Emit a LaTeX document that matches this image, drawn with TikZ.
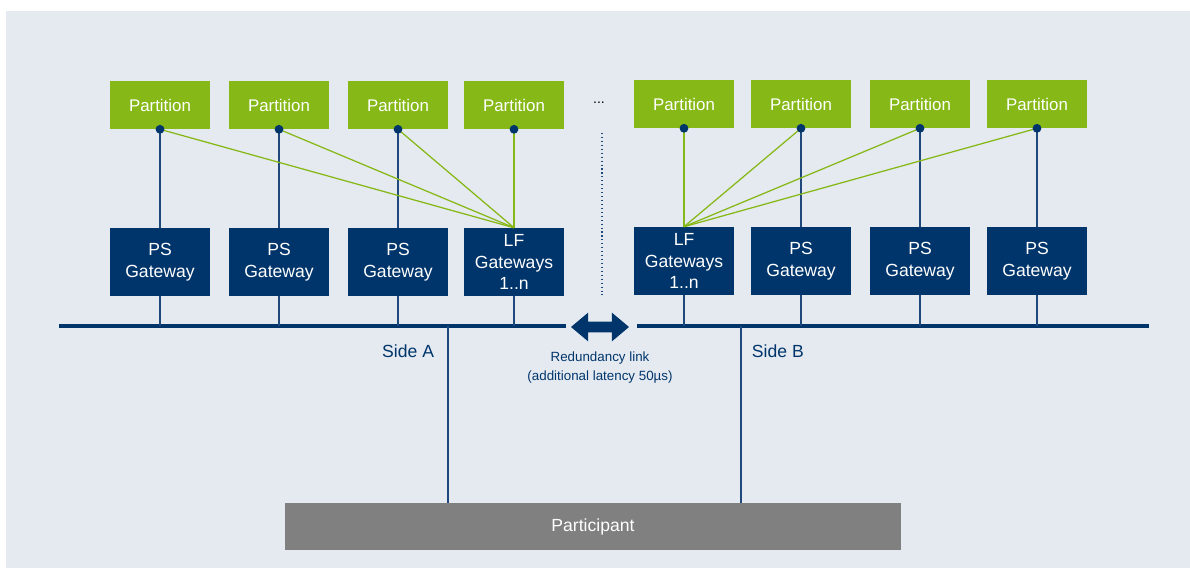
\documentclass[tikz,border=0pt]{standalone}
\usepackage{fontspec}
\setmainfont{Liberation Sans}
\usetikzlibrary{shapes.arrows, positioning}

\definecolor{bgblue}{RGB}{229,234,241}
\definecolor{partgreen}{RGB}{134,184,23}
\definecolor{navy}{RGB}{0,53,107}
\definecolor{wireblue}{RGB}{31,72,124}
\definecolor{partgray}{RGB}{128,128,128}

\begin{document}
\begin{tikzpicture}[
    x=0.025cm, y=-0.025cm,
    partition/.style={rectangle, fill=partgreen, text=white, minimum width=2.5cm, minimum height=1.2cm, font=\fontsize{12}{14}\selectfont},
    gateway/.style={rectangle, fill=navy, text=white, minimum width=2.5cm, minimum height=1.7cm, align=center, inner sep=1pt, font=\fontsize{12.5}{15.6}\selectfont},
    wire/.style={draw=wireblue, line width=0.9pt},
    lfwire/.style={draw=partgreen, line width=0.9pt},
    bus/.style={draw=navy, line width=2.6pt},
    side/.style={text=navy, font=\fontsize{12.5}{15}\selectfont}
]

    % Canvas
    \useasboundingbox (0,0) rectangle (1190,568);
    \fill[bgblue] (6,11) rectangle (1190,568);

    % Partitions, side A
    \node[partition] (p1) at (160,105) {Partition};
    \node[partition] (p2) at (279,105) {Partition};
    \node[partition] (p3) at (398,105) {Partition};
    \node[partition] (p4) at (514,105) {Partition};
    \node (more) at (599,103) {...};

    % Partitions, side B
    \node[partition] (p5) at (684,104) {Partition};
    \node[partition] (p6) at (801,104) {Partition};
    \node[partition] (p7) at (920,104) {Partition};
    \node[partition] (p8) at (1037,104) {Partition};

    % Gateways, side A
    \node[gateway] (g1) at (160,262) {PS\\Gateway};
    \node[gateway] (g2) at (279,262) {PS\\Gateway};
    \node[gateway] (g3) at (398,262) {PS\\Gateway};
    \node[gateway] (g4) at (514,262) {LF\\Gateways\\1..n};

    % Gateways, side B
    \node[gateway] (g5) at (684,261) {LF\\Gateways\\1..n};
    \node[gateway] (g6) at (801,261) {PS\\Gateway};
    \node[gateway] (g7) at (920,261) {PS\\Gateway};
    \node[gateway] (g8) at (1037,261) {PS\\Gateway};

    % Separator
    \coordinate (septop) at (602,133);
    \coordinate (sepbot) at (602,295);
    \draw[wireblue, dotted, line width=0.8pt] (septop) -- (sepbot);

    % Buses
    \coordinate (busAw) at (59,326);
    \coordinate (busAe) at (566,326);
    \coordinate (busBw) at (637,326);
    \coordinate (busBe) at (1149,326);
    \draw[bus] (busAw) -- (busAe);
    \draw[bus] (busBw) -- (busBe);

    % Redundancy link
    \node[double arrow, fill=navy, inner xsep=0pt, inner ysep=0.13cm, minimum height=1.45cm,
          double arrow head extend=0.22cm, double arrow tip angle=80] (redund) at (600,327) {};
    \node[text=navy, align=center, font=\fontsize{9.5}{13.5}\selectfont] (redundtxt) at (600,368)
        {Redundancy link\\(additional latency 50µs)};

    % Participant
    \node[rectangle, fill=partgray, text=white, minimum width=15.4cm, minimum height=1.175cm,
          font=\fontsize{12.5}{15}\selectfont] (part) at (593,526.5) {Participant};

    % PS gateways to their partitions
    \draw[wire] (p1.south) -- (g1.north);
    \draw[wire] (p2.south) -- (g2.north);
    \draw[wire] (p3.south) -- (g3.north);
    \draw[wire] (p6.south) -- (g6.north);
    \draw[wire] (p7.south) -- (g7.north);
    \draw[wire] (p8.south) -- (g8.north);

    % LF gateways to all partitions of their side
    \draw[lfwire] (p1.south) -- (g4.north);
    \draw[lfwire] (p2.south) -- (g4.north);
    \draw[lfwire] (p3.south) -- (g4.north);
    \draw[lfwire] (p4.south) -- (g4.north);
    \draw[lfwire] (p5.south) -- (g5.north);
    \draw[lfwire] (p6.south) -- (g5.north);
    \draw[lfwire] (p7.south) -- (g5.north);
    \draw[lfwire] (p8.south) -- (g5.north);

    % Partition ports
    \foreach \p in {p1,p2,p3,p4,p5,p6,p7,p8}
        \fill[navy] (\p.south) circle (0.11cm);

    % Gateways to buses
    \foreach \g in {g1,g2,g3,g4}
        \draw[wire] (\g.south) -- (\g.south |- busAw);
    \foreach \g in {g5,g6,g7,g8}
        \draw[wire] (\g.south) -- (\g.south |- busBw);

    % Sides to participant
    \coordinate (tapA) at (448,326);
    \coordinate (tapB) at (741,326);
    \draw[wire, line width=1.3pt] (tapA) -- (tapA |- part.north);
    \draw[wire, line width=1.3pt] (tapB) -- (tapB |- part.north);
    \node[side, anchor=east] (sideA) at (439,351) {Side A};
    \node[side, anchor=west] (sideB) at (747,351) {Side B};

\end{tikzpicture}
\end{document}
